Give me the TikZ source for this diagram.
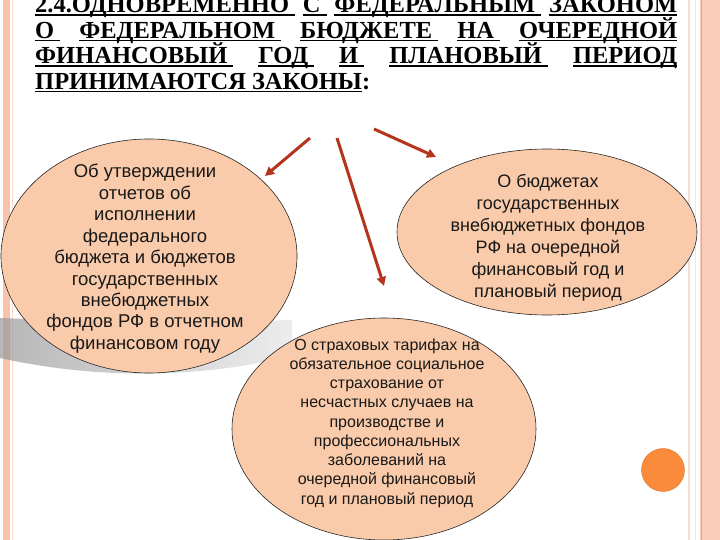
\documentclass[tikz,border=0pt]{standalone}
\usepackage{fontspec}
\setmainfont{Liberation Serif}
\newfontfamily\arialf{Liberation Sans}
\usetikzlibrary{shapes.geometric,arrows.meta}
\definecolor{peach}{HTML}{FACBAA}
\definecolor{arrowred}{HTML}{B5341C}
\definecolor{stripe}{HTML}{F9C2AB}
\definecolor{stripepale}{HTML}{F7DCCF}
\definecolor{dotorange}{HTML}{F98B3A}
\newcommand\uw[1]{\setbox0\hbox{#1}\rlap{\rule[-2.6pt]{\wd0}{1.4pt}}\box0}
\tikzset{
  bubble/.style={ellipse, draw=black!85, line width=0.6pt, fill=peach, inner sep=0pt},
  titleline/.style={anchor=base west, inner sep=0pt, font=\fontsize{24.5}{26}\selectfont\bfseries},
  ltxt/.style={anchor=base, inner sep=0pt, text=black!90, font=\arialf\fontsize{18.5}{20}\selectfont},
  rtxt/.style={anchor=base, inner sep=0pt, text=black!90, font=\arialf\fontsize{18}{20}\selectfont},
  btxt/.style={anchor=base, inner sep=0pt, text=black!90, font=\arialf\fontsize{16}{18}\selectfont},
  pointer/.style={draw=arrowred, line width=3pt, -{Triangle[length=9pt,width=9pt]}}
}
\begin{document}
\begin{tikzpicture}[x=1pt,y=-1pt]
\useasboundingbox (0,0) rectangle (720,540);
\clip (0,0) rectangle (720,540);
\fill[white] (0,0) rectangle (720,540);
% left border
\fill[stripe] (3,0) rectangle (10,540);
\draw[stripepale, line width=1pt] (12,0) -- (12,540);
% right border
\fill[stripe!85] (700,0) rectangle (720,540);
\draw[orange!45!stripe, line width=1.2pt] (701.5,0) -- (701.5,540);
\draw[stripepale, line width=1.6pt] (689,0) -- (689,540);
\draw[stripepale!70, line width=1pt] (695,0) -- (695,540);
% grey shadow band
\shade[left color=gray!80, right color=gray!20, fill opacity=0.7]
  (0,318) .. controls (100,322) and (200,322) .. (292,320)
  -- (292,356) .. controls (200,378) and (100,380) .. (0,358) -- cycle;
% title
\node[titleline] (t1) at (35,13) {\hbox to 642pt{\uw{2.4.ОДНОВРЕМЕННО }\hfill\uw{С }\hfill\uw{ФЕДЕРАЛЬНЫМ }\hfill\uw{ЗАКОНОМ}}};
\node[titleline] (t2) at (35,38.5) {\hbox to 642pt{\uw{О }\hfill\uw{ФЕДЕРАЛЬНОМ }\hfill\uw{БЮДЖЕТЕ }\hfill\uw{НА }\hfill\uw{ОЧЕРЕДНОЙ}}};
\node[titleline] (t3) at (35,64) {\hbox to 642pt{\uw{ФИНАНСОВЫЙ }\hfill\uw{ГОД }\hfill\uw{И }\hfill\uw{ПЛАНОВЫЙ }\hfill\uw{ПЕРИОД}}};
\node[titleline] (t4) at (35,89.5) {\uw{ПРИНИМАЮТСЯ ЗАКОНЫ}:};
% bubbles
\node[bubble, minimum width=296pt, minimum height=234pt] (L) at (149,256) {};
\node[bubble, minimum width=300pt, minimum height=166pt] (R) at (547,232) {};
\node[bubble, minimum width=304pt, minimum height=222pt] (B) at (384,429) {};
% texts
\foreach \t [count=\i] in {Об утверждении, отчетов об, исполнении, федерального, бюджета и бюджетов, государственных, внебюджетных, фондов РФ в отчетном, финансовом году}
  \node[ltxt] (L-\i) at ({145},{178+21.4*(\i-1)}) {\t};
\foreach \t [count=\i] in {О бюджетах, государственных, внебюджетных фондов, РФ на очередной, финансовый год и, плановый период}
  \node[rtxt] (R-\i) at ({548},{188+21.8*(\i-1)}) {\t};
\foreach \t [count=\i] in {О страховых тарифах на, обязательное социальное, страхование от, несчастных случаев на, производстве и, профессиональных, заболеваний на, очередной финансовый, год и плановый период}
  \node[btxt] (B-\i) at ({387},{350+19.25*(\i-1)}) {\t};
% arrows
\coordinate (a1s) at (310,138);
\coordinate (a1e) at (265,176);
\coordinate (a2s) at (337,138);
\coordinate (a2e) at (384,286);
\coordinate (a3s) at (374,129);
\coordinate (a3e) at (436,157);
\draw[pointer] (a1s) -- (a1e);
\draw[pointer] (a2s) -- (a2e);
\draw[pointer] (a3s) -- (a3e);
% orange dot
\node[circle, fill=dotorange, draw=dotorange!85!black, line width=0.4pt, minimum size=43pt, inner sep=0pt] (dot) at (663,470) {};
\end{tikzpicture}
\end{document}
